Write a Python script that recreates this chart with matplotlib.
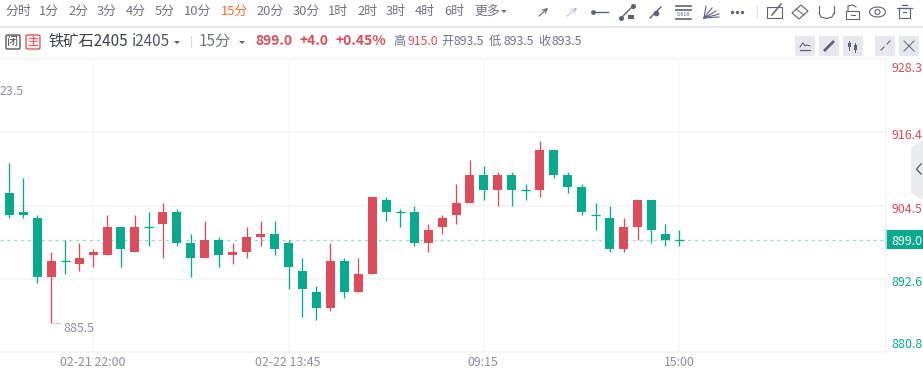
import matplotlib
matplotlib.use("Agg")
import matplotlib.pyplot as plt
from matplotlib.patches import Rectangle, FancyBboxPatch, Polygon, Circle, Ellipse

plt.rcParams['font.family'] = ['Noto Sans CJK SC', 'DejaVu Sans']

opens = [906.5, 903.5, 902.5, 893.0, 895.5, 895.0, 896.5, 896.5, 901.0, 897.0, 901.0, 901.5, 903.5, 898.5, 896.0, 899.0,
         896.5, 897.0, 899.5, 900.0, 898.5, 894.0, 890.5, 888.0, 895.5, 890.5, 893.5, 905.5, 903.5, 903.5, 898.5, 901.0, 903.0,
         905.0, 909.5, 907.0, 909.5, 907.0, 907.0, 913.5, 909.5, 907.5, 903.0, 902.5, 897.5, 901.0, 905.5, 900.0, 899.0]
closes = [903.0, 903.0, 893.0, 895.5, 895.5, 896.0, 897.0, 901.0, 897.5, 901.0, 901.0, 903.5, 898.5, 896.0, 899.0, 896.5,
          897.0, 899.5, 900.0, 897.5, 894.5, 891.0, 888.0, 895.5, 890.5, 893.5, 906.0, 903.5, 903.5, 898.5, 900.5, 902.5, 905.0,
          909.5, 907.0, 909.5, 907.0, 907.0, 913.5, 909.5, 907.5, 903.5, 903.0, 897.5, 901.0, 905.5, 900.5, 899.0, 899.0]
highs = [911.5, 909.0, 903.0, 897.0, 899.0, 898.5, 897.5, 903.0, 901.0, 903.0, 903.5, 905.0, 904.0, 900.0, 902.0, 899.5,
         898.5, 901.0, 902.0, 902.0, 899.0, 896.0, 891.5, 898.5, 896.0, 896.0, 906.0, 906.0, 904.0, 904.5, 901.5, 903.0, 908.0,
         912.0, 911.0, 910.0, 910.0, 908.0, 915.0, 913.5, 910.0, 908.0, 905.0, 904.5, 902.5, 905.5, 905.5, 901.5, 900.5]
lows = [902.5, 902.5, 892.0, 885.5, 893.5, 894.0, 894.5, 896.5, 894.5, 897.0, 898.0, 896.0, 898.0, 893.0, 896.0, 894.5,
        895.0, 896.0, 898.0, 896.5, 891.0, 886.5, 886.0, 887.5, 889.5, 890.5, 893.5, 902.0, 901.0, 898.0, 897.0, 900.0, 901.5,
        905.0, 905.5, 904.5, 904.5, 905.5, 906.0, 909.0, 906.5, 903.0, 900.5, 897.0, 897.0, 899.0, 898.5, 898.0, 898.0]

last_price = 899.0
y_ticks = [928.3, 916.4, 904.5, 892.6, 880.8]
x_tick_pos = [6, 20, 34, 48]
x_tick_labels = ['02-21 22:00', '02-22 13:45', '09:15', '15:00']
periods = ['分时', '1分', '2分', '3分', '4分', '5分', '10分', '15分', '20分', '30分', '1时', '2时', '3时', '4时', '6时']
period_x = [18, 49, 78, 107, 136, 165, 198, 234, 270, 306, 338, 367, 396, 425, 454]

RED = '#dc4c5a'
GREEN = '#09a98d'
GRID = '#f5f6f8'
GREY = '#8b8fa3'
DARK = '#5c6278'
W, H = 923, 374

fig = plt.figure(figsize=(W / 100, H / 100), dpi=100)
ax = fig.add_axes([0, 1 - 352 / H, 886 / W, 293 / H])
ax.set_xlim(-0.666, 62.8)
ax.set_ylim(880.8, 928.3)
for s in ax.spines.values():
    s.set_visible(False)
ax.set_yticks(y_ticks[1:-1])
ax.set_xticks(x_tick_pos)
ax.set_xticklabels([])
ax.set_yticklabels([])
ax.tick_params(length=0)
ax.grid(True, axis='y', color='#f3f4f6', lw=1.1, zorder=0)
ax.grid(True, axis='x', color='#f8f8fa', lw=1.2, zorder=0)
ax.set_axisbelow(True)

# candles
red_idx = (3, 5, 6, 7, 9, 11, 14, 16, 17, 18, 23, 25, 26, 30, 31, 32, 33, 35, 38, 44, 45)
px_w = 9 / 13.96
for i in range(len(opens)):
    c = RED if i in red_idx else GREEN
    ax.vlines(i, lows[i], highs[i], color=c, lw=0.95, zorder=3)
    if opens[i] == closes[i]:
        ax.hlines(opens[i], i - px_w / 2, i + px_w / 2, color=c, lw=0.95, zorder=3)
    else:
        ax.bar(i, abs(closes[i] - opens[i]), bottom=min(opens[i], closes[i]), width=px_w, color=c, zorder=3)
ax.axhline(last_price, color=GREEN, alpha=0.4, lw=0.9, ls=(0, (2.5, 3)), zorder=4)

# overlay in pixel coords for the toolbar and labels
ov = fig.add_axes([0, 0, 1, 1], facecolor='none')
ov.set_xlim(0, W)
ov.set_ylim(H, 0)
ov.axis('off')

for x, t in zip(period_x, periods):
    ov.text(x, 11, t, color='#ff6b2c' if t == '15分' else '#6e7387', fontsize=9.3, ha='center', va='center')
ov.text(487, 11, '更多', color='#6e7387', fontsize=9.3, ha='center', va='center')
ov.add_patch(Polygon([[501, 10], [507, 10], [504, 13], [501, 10]], color='#6e7387', lw=0))
ov.add_patch(Rectangle((0, 26), W, 2, color='#e6e8ef', lw=0))
ov.add_patch(Rectangle((0, 57), 886, 2, color='#fafafb', lw=0))

# second row
ov.add_patch(FancyBboxPatch((6, 35), 14, 14, boxstyle='round,pad=0,rounding_size=1.5', fc='white', ec='#444444', lw=0.9))
ov.text(13, 42, '闭', color='#444444', fontsize=8, ha='center', va='center')
ov.add_patch(FancyBboxPatch((26, 35), 14, 14, boxstyle='round,pad=0,rounding_size=1.5', fc='#fdecec', ec=RED, lw=0.9))
ov.text(33, 42, '主', color=RED, fontsize=8, ha='center', va='center')
ov.text(49, 41, '铁矿石2405', color='#3c4050', fontsize=11, ha='left', va='center')
ov.text(132, 41, 'i2405', color='#50566b', fontsize=11, ha='left', va='center')
ov.add_patch(Polygon([[174, 41], [180, 41], [177, 44]], color=DARK, lw=0))
ov.plot([190.5, 190.5], [36, 47], color='#d8dae2', lw=0.8)
ov.text(199, 41, '15分', color='#6e7387', fontsize=11, ha='left', va='center')
ov.add_patch(Polygon([[239, 41], [245, 41], [242, 44]], color=DARK, lw=0))
ov.text(255, 41, '899.0', color=RED, fontsize=10, fontweight='bold', ha='left', va='center')
ov.text(299, 41, '+4.0', color=RED, fontsize=10, fontweight='bold', ha='left', va='center')
ov.text(335, 41, '+0.45%', color=RED, fontsize=10, fontweight='bold', ha='left', va='center')
for x, t in zip([393, 441, 489, 538], ['高', '开', '低', '收']):
    ov.text(x, 41, t, color='#6e7387', fontsize=8.8, ha='left', va='center')
ov.text(407, 41, '915.0', color=RED, fontsize=8.8, ha='left', va='center')
for x in [454, 503, 551]:
    ov.text(x, 41, '893.5', color='#6e7387', fontsize=8.8, ha='left', va='center')

# buttons
for x in [795, 819, 843, 875, 899]:
    ov.add_patch(FancyBboxPatch((x, 36), 20, 20, boxstyle='round,pad=0,rounding_size=2', fc='#e6e8ef', ec='none'))
ov.plot([800, 810], [50, 50], color=DARK, lw=0.9)
ov.plot([800, 803, 805, 807, 810], [47, 43, 46, 45, 46], color=DARK, lw=0.8)
ov.plot([825, 833], [50, 42], color=DARK, lw=2)
ov.plot([849, 849], [41, 50], color=DARK, lw=0.7)
ov.add_patch(Rectangle((847.5, 43), 3, 4, color=DARK, lw=0))
ov.plot([855, 855], [43, 52], color=DARK, lw=0.7)
ov.add_patch(Rectangle((853.5, 45), 3, 5, color=DARK, lw=0))
ov.plot([881, 884], [50, 47], color=DARK, lw=0.8)
ov.plot([887, 890], [44, 41], color=DARK, lw=0.8)
ov.plot([904, 914], [41, 51], color=DARK, lw=0.7)
ov.plot([904, 914], [51, 41], color=DARK, lw=0.7)

# drawing tools
ov.annotate('', xy=(550, 6), xytext=(537, 18), arrowprops=dict(arrowstyle='->', color=DARK, lw=0.8, mutation_scale=8))
ov.annotate('', xy=(579, 6), xytext=(565, 18), arrowprops=dict(arrowstyle='->', color='#a5a9b7', lw=0.6, ls=(0, (2, 1)), mutation_scale=8))
ov.plot([592, 608], [12, 12], color=DARK, lw=1)
ov.plot([593], [12], 'o', color=DARK, ms=2.4)
ov.plot([621, 633], [18, 6], color=DARK, lw=1)
ov.plot([621, 633], [18, 6], 'o', color=DARK, ms=2.6)
ov.add_patch(Rectangle((628, 15), 6, 4, color=DARK, lw=0))
ov.plot([650, 661], [18, 7], color=DARK, lw=1)
ov.plot([655.5], [12.5], 'o', color=DARK, ms=3)
ov.plot([676, 691], [5.5, 5.5], color=DARK, lw=1.2)
ov.plot([676, 691], [9.5, 9.5], color=DARK, lw=1.2)
ov.plot([676, 691], [19, 19], color=DARK, lw=1.2)
ov.text(683.5, 14, '0.618', color=DARK, fontsize=3.8, ha='center', va='center')
for tx, ty in [(706, 6), (712, 8), (716, 11), (719, 14), (719, 17)]:
    ov.plot([704, tx], [18, ty], color=DARK, lw=0.8)
ov.plot([732, 737, 742], [12, 12, 12], 'o', color=DARK, ms=1.4)
ov.plot([756.5, 756.5], [6, 17], color='#e0e2e8', lw=0.8)
ov.add_patch(Rectangle((767, 7), 15, 11, fc='none', ec=DARK, lw=0.8))
ov.plot([772, 781], [15, 4], color=DARK, lw=1.1)
ov.add_patch(Polygon([[792, 13], [801, 5], [808, 11], [799, 19]], fc='none', ec=DARK, lw=0.8))
ov.plot([796, 804], [9, 15], color=DARK, lw=0.7)
ov.plot([819, 819], [6, 13], color=DARK, lw=0.8)
ov.plot([834, 834], [6, 13], color=DARK, lw=0.8)
ov.plot([819, 821, 826.5, 832, 834], [13, 17, 18.5, 17, 13], color=DARK, lw=0.8)
ov.add_patch(Rectangle((846, 11), 13, 8, fc='none', ec=DARK, lw=0.8))
ov.plot([848, 848, 853, 856], [11, 6, 5, 7], color=DARK, lw=0.8)
ov.plot([851, 855], [15, 15], color=DARK, lw=0.8)
ov.add_patch(Ellipse((877.5, 12), 16, 10, fc='none', ec=DARK, lw=0.8))
ov.add_patch(Circle((877.5, 12), 2.5, fc='none', ec=DARK, lw=0.8))
ov.add_patch(Rectangle((899, 8), 11, 10, fc='none', ec=DARK, lw=0.8))
ov.plot([897, 912], [7.5, 7.5], color=DARK, lw=0.9)
ov.plot([902, 907], [5, 5], color=DARK, lw=0.9)
ov.plot([903, 906], [12, 12], color=DARK, lw=0.8)

# axis frame
ov.plot([886, 886], [59, 352], color='#f3f4f6', lw=1.1)
ov.plot([0, 886], [352, 352], color='#f3f4f6', lw=1.1)
ov.plot([0, 886], [59, 59], color='#f3f4f6', lw=1.1)

# value labels
for v, y in zip(y_ticks, [68, 135, 209, 282, 345]):
    ov.text(891, y, f'{v:.1f}', color=RED if v > last_price else GREEN, fontsize=8.9, ha='left', va='center')
ov.add_patch(Rectangle((885, 230), 38, 19, color=GREEN, lw=0))
ov.text(891, 241, f'{last_price:.1f}', color='white', fontsize=8.9, ha='left', va='center')
ov.add_patch(Polygon([[923, 140], [911, 147], [911, 193], [923, 200]], color='#ebecf0', lw=0))
ov.plot([921, 916.5, 921], [164, 169, 174], color=DARK, lw=1)

# x labels, high and low marks
for p, t in zip([93, 288, 483, 679], x_tick_labels):
    ov.text(p, 363, t, color=GREY, fontsize=8.9, ha='center', va='center')
ov.text(0, 91, '23.5', color=GREY, fontsize=8.9, ha='left', va='center')
ov.plot([53, 60], [323, 323], color=GREY, lw=0.8, ls=(0, (1, 1.5)))
ov.text(63, 328, f'{min(lows):.1f}', color=GREY, fontsize=8.9, ha='left', va='center')

fig.savefig('out.png', dpi=100)
